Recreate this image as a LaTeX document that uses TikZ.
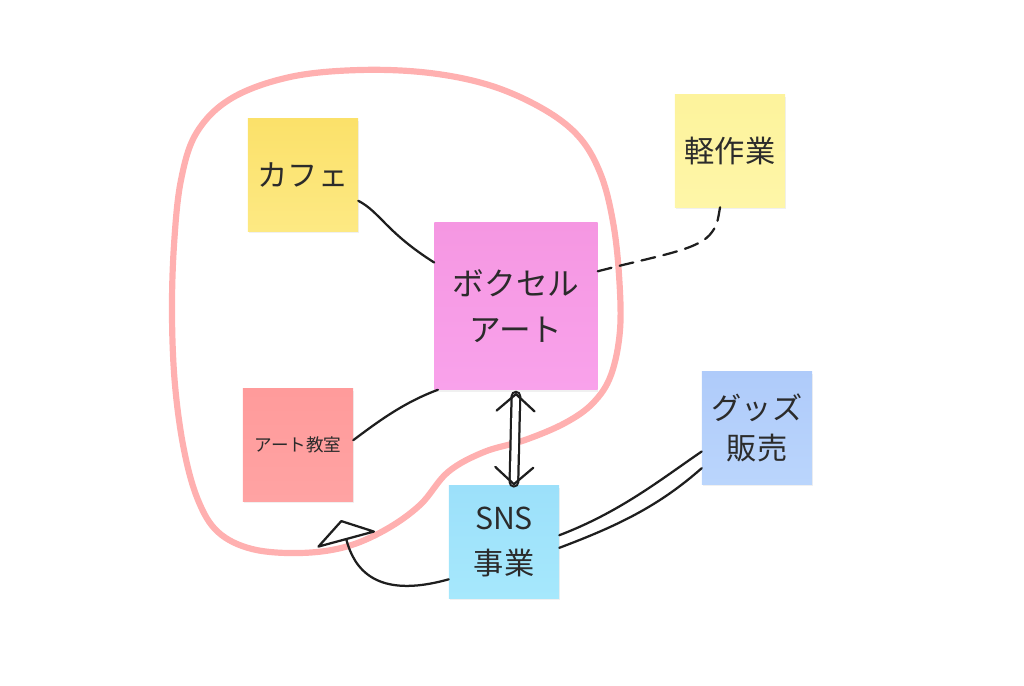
\documentclass[tikz,border=0pt]{standalone}
\usepackage{fontspec}
\usepackage{xcolor}
\usepackage{tikz}
\usetikzlibrary{arrows}
\usetikzlibrary{arrows.meta}
\usetikzlibrary{shadows}
\newfontfamily\jpfont{Noto Sans CJK JP}
\definecolor{ink}{HTML}{2B2B2B}
\definecolor{pen}{HTML}{1E1E1E}
\definecolor{ring}{HTML}{FFB0B0}
\definecolor{cafetop}{HTML}{FBE16A}
\definecolor{cafebot}{HTML}{FDE983}
\definecolor{lighttop}{HTML}{FDF39C}
\definecolor{lightbot}{HTML}{FEF6A8}
\definecolor{voxeltop}{HTML}{F597E2}
\definecolor{voxelbot}{HTML}{F9A2EB}
\definecolor{classtop}{HTML}{FF9B9B}
\definecolor{classbot}{HTML}{FFA3A3}
\definecolor{goodstop}{HTML}{AFCBFA}
\definecolor{goodsbot}{HTML}{BAD5FC}
\definecolor{snstop}{HTML}{9CE0FA}
\definecolor{snsbot}{HTML}{A6E8FC}

\begin{document}
\begin{tikzpicture}[x=0.025cm,y=-0.025cm,
    note/.style={minimum width=2.75cm,minimum height=2.8cm,inner sep=0pt,align=center,text=ink,
      font=\jpfont\fontsize{21.5}{32}\selectfont,
      drop shadow={opacity=0.12,shadow xshift=0.6pt,shadow yshift=-1.5pt}},
    pen/.style={draw=pen,line width=1.6pt,line cap=round},
    vbarb/.tip={Straight Barb[color=pen,length=12pt,width=27pt,line cap=round]}]
    \useasboundingbox (0,0) rectangle (1024,685);
    \draw[ring,line width=4.4pt] plot[smooth cycle,tension=0.6] coordinates {(300,553) (252,549) (218,532) (198,500) (184,450) (175,385) (172,315) (174,245) (181,180) (197,132) (232,98) (290,77) (360,70) (430,73) (492,86) (545,110) (580,138) (601,175) (613,222) (619,275) (620,330) (611,375) (593,403) (565,423) (525,440) (484,452) (448,472) (420,505) (385,530) (345,547)};
    \node[note,top color=cafetop,bottom color=cafebot] (cafe) at (303,175) {カフェ};
    \node[note,top color=lighttop,bottom color=lightbot] (light) at (730,151) {軽作業};
    \node[note,minimum width=4.075cm,minimum height=4.175cm,top color=voxeltop,bottom color=voxelbot,font=\jpfont\fontsize{22.5}{33}\selectfont] (voxel) at (516,306) {ボクセル\\アート};
    \node[note,top color=classtop,bottom color=classbot,font=\jpfont\fontsize{12.5}{16}\selectfont] (class) at (298,445) {アート教室};
    \node[note,top color=goodstop,bottom color=goodsbot,font=\jpfont\fontsize{21.5}{29}\selectfont] (goods) at (757,428) {グッズ\\販売};
    \node[note,top color=snstop,bottom color=snsbot] (sns) at (504,542) {SNS\\事業};
    \coordinate (tip) at (341,520);
    \draw[pen] (cafe.-25) .. controls (380,212) and (386,232) .. (voxel.152);
    \draw[pen] (class.5) .. controls (380,420) and (405,402) .. (voxel.-133);
    \draw[pen,dash pattern=on 10pt off 6pt] (voxel.23) .. controls (660,255) and (700,250) .. (712,232) .. controls (718,224) and (718,218) .. (light.-100);
    \draw[pen] (sns.7) .. controls (620,512) and (660,480) .. (goods.-157);
    \draw[pen] (sns.-6) .. controls (620,525) and (660,505) .. (goods.-144);
    \draw[pen,double,double distance=4.5pt,shorten <=2.5pt,shorten >=2.5pt] ([yshift=-2]voxel.south) to ([xshift=7]sns.north);
    \draw[white,line width=1.6pt,vbarb-vbarb] ([yshift=-2]voxel.south) to ([xshift=7]sns.north);
    \draw[pen,-{Triangle[open,length=15pt,width=46pt,round]}] (sns.-146) .. controls (375,600) and (354,568) .. (tip);
\end{tikzpicture}
\end{document}
